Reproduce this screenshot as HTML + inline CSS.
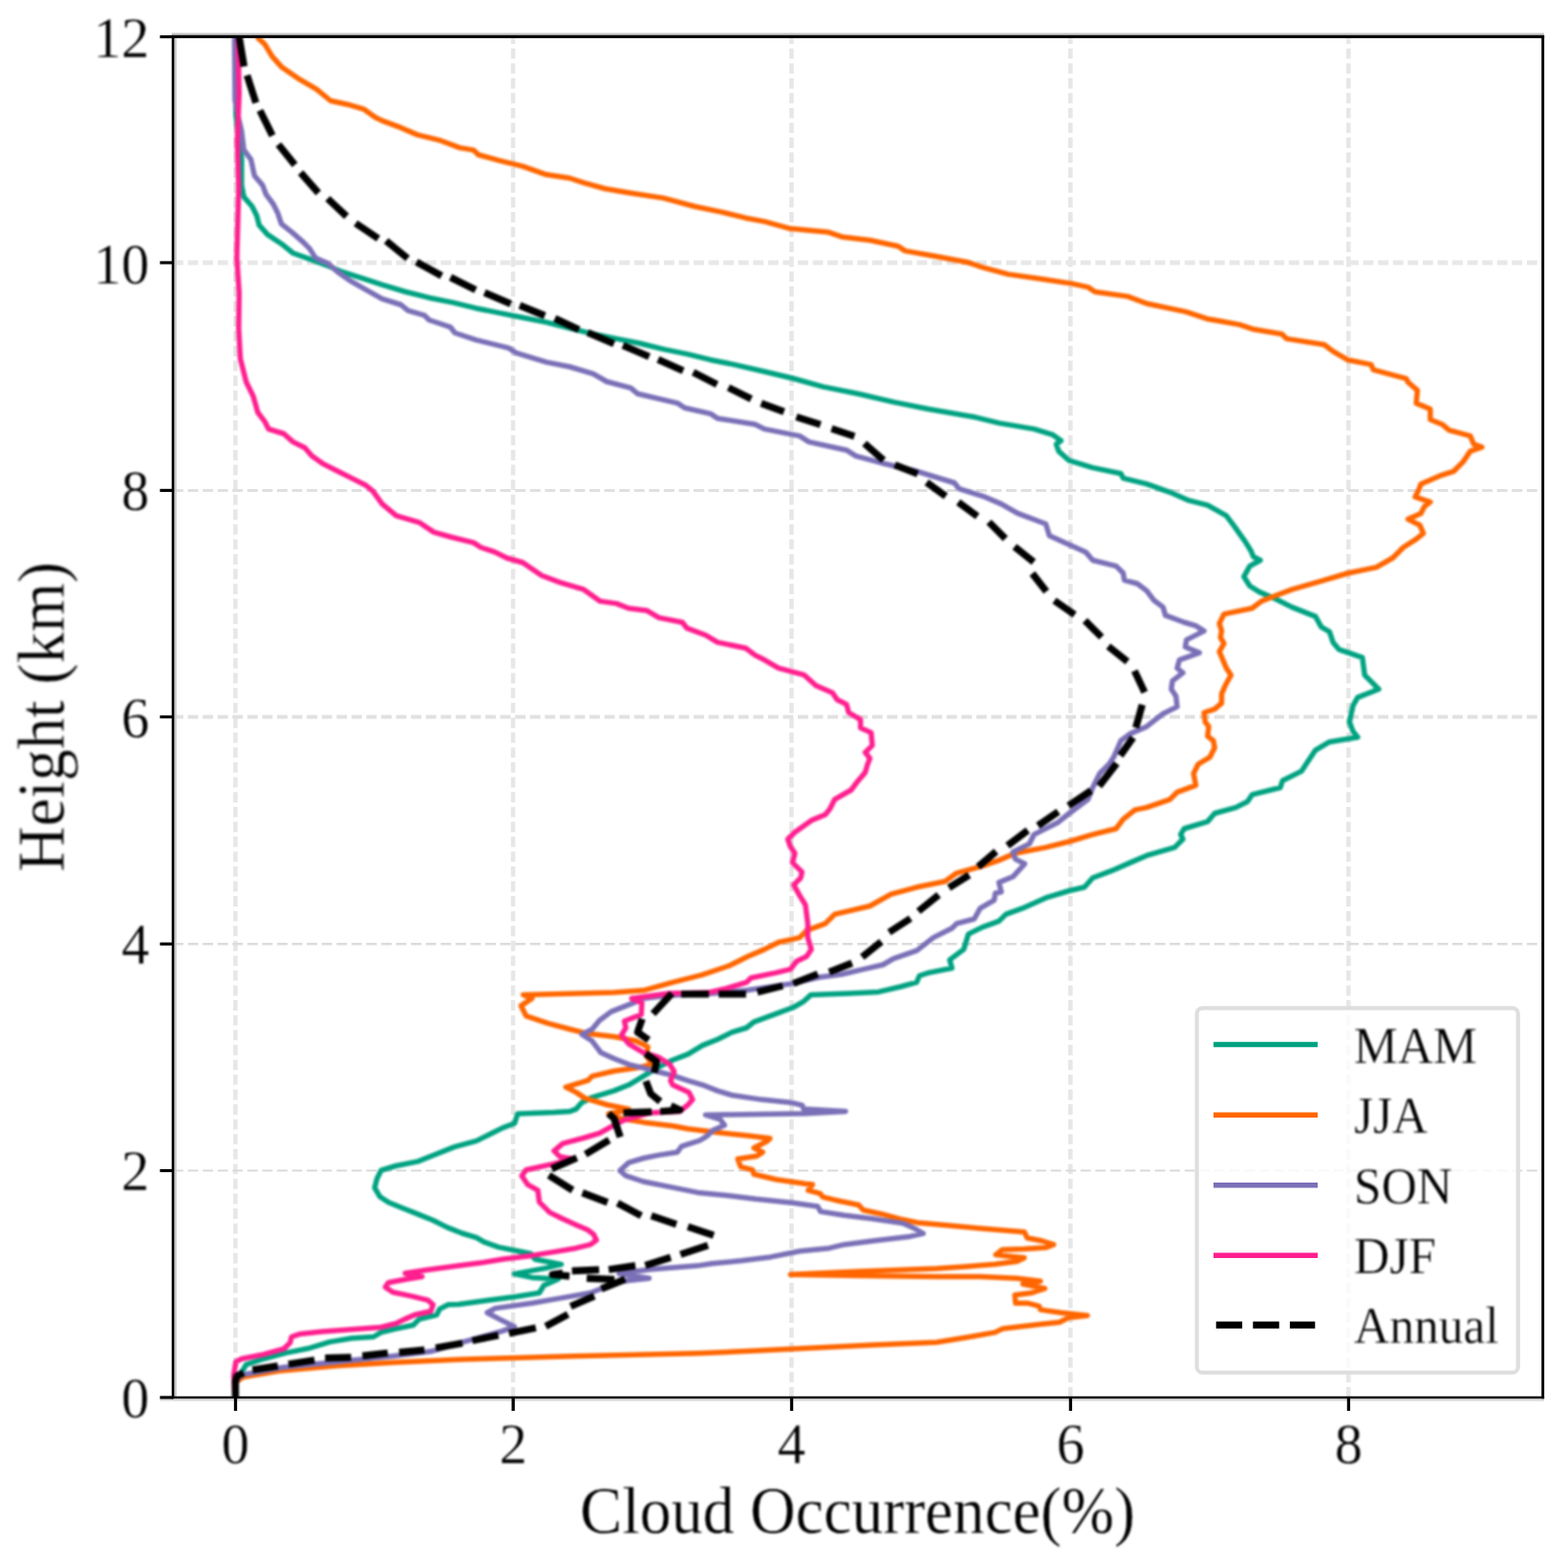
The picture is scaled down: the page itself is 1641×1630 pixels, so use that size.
<!DOCTYPE html>
<html lang="en"><head><meta charset="utf-8"><title>Cloud Occurrence vs Height</title>
<style>html,body{margin:0;padding:0;background:#fff}body{width:1641px;height:1630px;overflow:hidden}svg{display:block}text{font-family:"Liberation Serif", serif;fill:#000;stroke:#fff;stroke-width:0.35px}</style>
</head><body>
<svg width="1641" height="1630" viewBox="0 0 1641 1630">
<rect x="0" y="0" width="1641" height="1630" fill="#fff"/>
<defs><filter id="fsoft" x="-5%" y="-5%" width="110%" height="110%" color-interpolation-filters="sRGB"><feGaussianBlur stdDeviation="0.8"/></filter><filter id="ftxt" x="-10%" y="-10%" width="120%" height="120%" color-interpolation-filters="sRGB"><feGaussianBlur stdDeviation="0.8"/></filter></defs>
<defs><clipPath id="ax"><rect x="181.0" y="38.5" width="1434.2" height="1424.3"/></clipPath></defs>
<g stroke="#e6e6e6" stroke-width="4.0" stroke-dasharray="10.87 4.7" fill="none">
<line x1="246.4" y1="1462.8" x2="246.4" y2="38.5" stroke="#e7e7e7" stroke-width="4.6"/>
<line x1="537.0" y1="1462.8" x2="537.0" y2="38.5" stroke="#e7e7e7" stroke-width="4.6"/>
<line x1="828.4" y1="1462.8" x2="828.4" y2="38.5" stroke="#e7e7e7" stroke-width="4.6"/>
<line x1="1120.3" y1="1462.8" x2="1120.3" y2="38.5" stroke="#e7e7e7" stroke-width="4.6"/>
<line x1="1411.3" y1="1462.8" x2="1411.3" y2="38.5" stroke="#e7e7e7" stroke-width="4.6"/>
<line x1="181.0" y1="1225.5" x2="1615.2" y2="1225.5" stroke="#dadada" stroke-width="2.2"/>
<line x1="181.0" y1="988.2" x2="1615.2" y2="988.2" stroke="#dcdcdc" stroke-width="2.4"/>
<line x1="181.0" y1="750.5" x2="1615.2" y2="750.5" stroke="#e1e1e1" stroke-width="4.0"/>
<line x1="181.0" y1="513.4" x2="1615.2" y2="513.4" stroke="#e0e0e0" stroke-width="3.0"/>
<line x1="181.0" y1="275.0" x2="1615.2" y2="275.0" stroke="#e8e8e8" stroke-width="5.0"/>
</g>
<g filter="url(#fsoft)" clip-path="url(#ax)" fill="none" stroke-linejoin="round" stroke-linecap="butt">
<polyline stroke="#00A281" stroke-width="5.5" points="246.5,38.5 247.0,120.0 250.0,150.0 252.8,165.0 252.8,193.9 255.2,206.1 263.8,216.0 268.7,225.8 271.2,235.6 279.8,245.4 294.5,255.2 306.7,265.0 323.9,271.2 343.6,278.5 358.3,284.7 377.9,290.8 400.0,298.2 424.5,305.5 449.1,311.7 473.6,316.6 498.2,322.7 522.7,327.6 547.2,332.5 571.8,337.4 596.3,343.6 620.9,349.7 645.4,354.6 669.9,359.5 694.5,365.6 719.0,370.6 743.6,376.7 768.1,381.6 800.0,389.0 829.4,396.0 861.3,404.9 898.2,412.3 935.0,420.9 971.8,428.2 1020.9,436.8 1045.4,442.9 1082.2,449.1 1101.8,455.2 1110.4,461.3 1105.5,465.0 1108.0,472.4 1119.0,482.2 1143.6,489.6 1173.0,495.7 1175.5,500.6 1200.0,506.7 1224.5,515.3 1244.2,523.9 1263.8,528.8 1283.4,539.9 1290.8,549.7 1303.1,566.9 1309.2,576.7 1311.7,582.8 1319.0,586.5 1308.0,592.6 1301.8,603.7 1308.0,613.5 1317.8,619.6 1335.0,627.0 1352.1,635.6 1376.7,645.4 1382.8,656.4 1391.4,661.3 1395.1,672.4 1401.2,679.8 1425.8,688.3 1428.2,706.7 1435.6,714.1 1442.9,721.5 1420.9,730.1 1416.0,738.7 1412.3,755.8 1416.0,765.6 1420.9,771.8 1391.4,776.7 1376.7,785.3 1366.9,800.0 1362.0,807.4 1342.3,817.2 1339.9,824.5 1310.4,831.9 1305.5,839.3 1293.3,845.4 1271.2,851.5 1263.8,860.1 1239.3,867.5 1235.6,873.6 1238.0,878.5 1229.4,887.1 1200.0,895.7 1182.8,903.1 1163.2,911.7 1143.6,919.0 1135.0,928.8 1119.0,932.5 1094.5,939.9 1069.9,950.9 1052.8,957.1 1045.4,964.4 1028.2,970.6 1013.5,977.9 1008.6,993.9 993.9,1004.9 996.3,1013.5 971.8,1018.4 962.3,1021.5 959.3,1028.4 942.4,1033.0 919.4,1038.4 888.7,1039.9 848.8,1041.4 841.2,1048.3 830.4,1054.5 812.0,1061.4 789.0,1069.8 781.3,1076.0 766.0,1080.6 750.7,1088.2 735.3,1094.4 720.0,1103.6 704.0,1109.7 688.7,1117.4 673.4,1126.6 658.0,1135.8 642.7,1141.9 619.7,1148.8 609.0,1154.2 602.8,1161.1 596.7,1163.4 580.0,1164.5 541.7,1166.0 538.6,1176.0 526.3,1180.6 514.0,1186.7 498.7,1194.4 475.7,1200.6 452.7,1209.8 437.4,1215.9 414.4,1220.5 399.0,1225.1 394.4,1234.3 392.1,1243.5 397.5,1252.7 406.7,1258.8 422.0,1265.0 437.4,1271.1 452.7,1277.2 468.0,1284.9 483.4,1291.0 498.7,1295.6 506.4,1300.2 521.7,1305.6 544.7,1310.2 555.5,1312.5 559.8,1318.2 587.4,1323.6 572.0,1327.4 538.3,1333.6 556.7,1337.4 584.3,1338.9 569.0,1345.8 564.4,1353.5 541.3,1357.3 510.7,1361.2 480.0,1365.5 469.3,1365.8 460.1,1370.4 457.0,1376.5 438.6,1381.1 432.5,1387.2 414.0,1391.1 398.7,1394.9 391.0,1399.5 368.0,1401.0 345.0,1404.9 322.0,1411.8 299.0,1416.4 276.0,1422.5 257.6,1428.7 253.0,1436.3 247.0,1445.0 246.4,1463.0"/>
<polyline stroke="#FF6600" stroke-width="5.5" points="268.7,38.5 277.3,46.6 284.7,58.9 294.5,69.9 314.1,83.4 331.3,93.3 346.0,105.5 363.2,109.2 380.4,114.1 392.6,122.7 400.0,126.4 419.6,133.7 436.8,141.1 461.3,147.2 481.0,154.6 495.7,157.1 500.6,162.0 522.7,168.1 547.2,174.2 571.8,182.8 596.3,186.5 611.0,191.4 633.1,197.5 657.7,201.7 694.5,207.4 726.4,216.0 755.8,222.1 780.4,228.2 800.0,231.9 827.0,239.3 866.3,242.9 881.0,247.9 910.4,251.5 939.9,257.7 947.2,262.6 981.6,268.7 1013.5,274.8 1028.2,279.8 1055.2,287.1 1089.6,292.0 1121.5,296.9 1138.7,300.6 1146.0,305.5 1180.4,310.4 1200.0,317.8 1241.0,326.4 1263.1,333.7 1297.4,339.9 1312.2,344.8 1341.6,349.7 1346.5,354.6 1385.8,360.7 1395.6,368.1 1410.3,376.7 1434.9,381.6 1437.3,387.2 1471.7,396.3 1473.5,400.0 1483.4,408.6 1482.2,422.1 1496.9,428.2 1496.9,439.3 1509.2,444.2 1516.6,450.3 1538.7,456.4 1542.3,465.0 1550.9,468.2 1538.7,472.4 1531.3,483.4 1521.5,493.3 1506.7,498.2 1487.1,506.7 1484.7,512.9 1481.0,520.2 1496.9,525.6 1490.8,530.1 1487.1,537.4 1473.6,543.6 1485.9,549.7 1489.6,558.3 1482.2,564.4 1468.7,573.0 1457.7,584.0 1440.5,593.9 1411.0,600.0 1381.6,608.6 1352.1,617.2 1332.5,624.5 1320.2,629.4 1310.4,636.8 1281.0,642.9 1276.1,652.8 1278.5,660.1 1277.3,667.5 1281.0,673.6 1276.1,682.2 1279.8,690.8 1283.4,699.4 1288.3,706.7 1282.2,717.8 1278.5,726.4 1278.5,736.2 1271.2,742.3 1260.1,746.0 1261.3,755.8 1265.0,760.7 1263.8,770.6 1269.9,775.5 1271.2,782.8 1266.3,792.6 1254.0,800.0 1249.1,809.8 1251.5,822.1 1231.9,829.4 1224.5,836.8 1200.0,845.4 1187.7,847.9 1175.5,857.7 1168.1,867.5 1143.6,873.6 1119.0,881.0 1094.5,887.1 1062.6,893.3 1045.4,900.6 1028.2,906.7 1001.2,914.1 989.0,922.7 959.5,928.8 932.5,936.2 910.4,948.5 873.6,957.1 863.8,966.9 844.2,974.2 836.8,981.6 814.7,986.5 800.0,993.9 782.8,1001.2 763.2,1011.0 734.7,1020.7 704.0,1028.4 673.4,1036.8 642.7,1039.1 547.6,1041.4 556.8,1045.3 545.3,1052.9 550.7,1063.7 573.7,1071.3 596.7,1077.5 615.1,1082.1 642.7,1085.2 665.7,1089.8 678.0,1095.9 676.4,1105.1 682.6,1114.3 665.7,1118.1 642.7,1121.2 619.7,1126.6 615.1,1131.2 592.1,1138.1 602.8,1143.4 612.0,1149.6 635.0,1156.5 658.0,1161.1 650.0,1163.5 637.0,1166.0 650.0,1171.0 673.4,1174.9 704.0,1178.7 720.0,1181.8 750.7,1185.6 781.3,1188.7 805.9,1191.7 802.8,1194.8 789.0,1201.7 798.2,1206.3 792.1,1210.2 772.1,1213.2 775.2,1221.6 787.5,1224.7 789.0,1229.3 812.0,1234.7 842.7,1239.3 850.4,1240.1 845.8,1246.2 858.0,1249.3 861.1,1253.1 873.4,1256.2 898.7,1261.5 903.3,1266.8 921.7,1270.7 944.7,1276.8 960.1,1279.9 980.0,1281.8 1026.0,1286.0 1072.0,1289.8 1075.1,1296.0 1090.4,1299.0 1102.7,1302.9 1095.0,1306.0 1072.0,1307.5 1049.0,1308.3 1042.1,1313.6 1056.7,1315.2 1072.0,1316.7 1064.4,1320.5 1041.3,1323.6 1010.7,1325.9 980.0,1328.0 900.0,1331.0 827.4,1334.3 900.0,1335.5 980.0,1336.6 1026.0,1336.6 1064.4,1338.2 1088.9,1341.2 1070.5,1344.3 1093.5,1348.9 1079.7,1353.5 1062.1,1355.8 1062.8,1364.2 1075.1,1364.2 1087.4,1367.3 1088.9,1371.1 1110.4,1374.2 1138.0,1377.3 1118.0,1379.6 1108.8,1384.2 1087.4,1386.5 1049.0,1391.1 1041.3,1394.9 1010.7,1400.3 980.0,1405.2 914.0,1407.9 852.7,1411.0 791.3,1414.1 730.0,1416.8 600.0,1419.8 480.0,1423.2 414.0,1426.3 352.7,1429.8 291.3,1435.3 255.0,1441.5 248.0,1446.0 246.4,1450.0 246.4,1463.0"/>
<polyline stroke="#7A70B7" stroke-width="5.5" points="245.4,38.5 246.0,105.0 250.0,125.0 252.8,137.4 255.2,157.0 262.6,166.9 266.3,184.0 274.8,193.9 278.5,203.7 285.9,213.5 290.8,223.3 294.5,234.4 306.7,244.2 316.6,252.8 323.9,260.1 330.1,269.9 343.6,276.1 353.4,284.7 365.6,293.3 380.4,301.8 400.0,312.9 419.6,319.0 427.0,325.2 444.2,330.1 449.1,335.0 471.2,342.3 476.1,348.5 498.2,355.8 532.5,364.4 539.9,369.3 571.8,379.1 596.3,384.0 620.9,391.4 635.0,399.5 660.1,406.1 667.5,412.3 709.2,422.1 716.6,427.0 743.6,433.1 750.9,438.0 790.2,444.2 800.0,449.1 836.8,456.4 846.6,462.6 885.9,471.2 895.7,477.3 922.7,484.7 959.5,493.3 998.8,505.5 1003.7,511.7 1030.7,520.2 1047.9,527.6 1065.0,537.4 1094.5,548.5 1098.2,560.7 1114.1,568.1 1136.2,577.9 1143.6,586.5 1168.1,592.6 1175.5,600.0 1176.7,607.4 1190.2,611.0 1200.0,618.4 1207.4,628.2 1217.2,635.6 1219.6,644.2 1239.3,651.5 1251.5,655.2 1260.1,660.6 1241.7,669.9 1240.5,677.3 1255.2,683.4 1234.4,690.8 1231.9,699.4 1238.0,704.3 1227.0,712.9 1225.8,721.5 1230.7,728.8 1231.9,739.9 1217.2,747.2 1200.0,760.7 1182.8,768.1 1173.0,775.5 1165.6,792.6 1160.7,800.0 1150.9,809.8 1143.6,824.5 1138.7,836.8 1119.0,851.5 1106.7,861.3 1082.2,873.6 1077.3,883.4 1060.1,892.0 1062.6,899.4 1072.4,904.3 1060.1,917.8 1045.4,923.9 1047.9,933.7 1041.7,935.0 1040.5,942.3 1025.8,950.9 1019.6,962.0 1001.2,966.9 996.3,971.8 976.7,981.6 959.5,995.1 935.0,1003.7 924.0,1010.0 904.0,1014.6 881.0,1020.0 858.0,1023.0 827.4,1029.9 781.3,1036.8 740.0,1040.5 700.0,1042.0 673.4,1045.3 661.1,1050.6 639.6,1059.1 627.4,1068.3 619.7,1077.5 609.0,1082.9 619.7,1089.8 628.9,1102.0 642.7,1108.2 658.0,1114.3 673.4,1118.1 688.7,1122.0 704.0,1125.8 719.4,1131.2 735.3,1135.8 750.7,1141.9 766.0,1146.5 796.7,1151.1 827.4,1154.2 839.6,1157.2 841.2,1161.1 884.9,1163.4 842.7,1165.7 738.4,1167.2 753.7,1171.8 758.3,1177.9 746.1,1183.3 739.9,1189.4 732.3,1194.0 720.0,1197.9 713.3,1200.2 708.7,1206.3 688.7,1209.4 673.4,1212.5 658.0,1217.1 648.8,1225.5 655.0,1230.9 673.4,1237.0 704.0,1243.1 730.0,1248.4 760.7,1251.5 791.3,1255.3 829.7,1259.2 855.8,1263.0 858.8,1268.4 883.4,1272.2 914.0,1276.0 944.7,1280.6 957.0,1286.0 966.2,1291.4 952.4,1294.4 914.0,1299.0 883.4,1302.9 868.0,1306.7 837.4,1309.8 806.7,1315.9 776.0,1319.8 745.3,1322.8 730.0,1325.1 679.4,1329.0 648.0,1333.5 679.4,1338.2 648.7,1341.5 618.0,1353.5 587.4,1358.9 556.7,1364.2 518.3,1369.6 509.9,1374.2 522.9,1381.1 538.3,1388.8 526.0,1393.4 487.7,1404.1 480.0,1406.4 450.9,1414.8 411.0,1419.7 296.0,1431.5 253.0,1439.4 246.4,1446.0 246.4,1463.0"/>
<polyline stroke="#FF1F8F" stroke-width="5.5" points="249.0,38.5 250.3,98.0 248.3,147.0 249.8,196.0 247.9,270.0 250.3,306.7 249.8,343.6 251.5,375.5 257.7,400.0 265.0,414.7 269.9,431.9 277.3,441.7 281.0,449.1 296.9,454.0 306.7,462.6 319.0,468.7 326.4,477.3 338.7,485.9 353.4,493.3 368.1,500.6 382.8,508.0 390.2,514.1 400.0,527.6 414.7,539.9 439.3,547.2 454.0,557.1 471.2,562.0 495.7,568.1 503.1,573.0 517.8,577.9 530.1,584.0 547.2,589.0 566.9,602.5 586.5,609.8 611.0,617.2 628.2,629.4 645.4,631.9 657.7,636.8 677.3,639.3 689.6,646.6 714.1,651.5 719.0,657.7 738.7,665.0 750.9,672.4 780.4,678.5 790.2,685.9 800.0,690.8 814.7,699.4 841.7,706.7 854.0,717.8 871.2,725.2 876.1,732.5 885.9,737.4 888.3,746.0 900.6,753.4 900.6,762.0 911.7,766.9 912.9,780.4 905.5,787.7 910.4,793.9 908.0,800.0 905.5,808.6 898.2,817.2 890.8,827.0 873.6,836.8 868.7,846.6 863.8,852.8 849.1,858.9 831.9,871.2 824.5,878.5 827.0,885.9 831.9,893.3 829.4,903.1 839.3,912.9 838.0,919.0 830.7,926.4 836.8,937.4 842.9,947.2 845.4,966.9 845.4,981.6 849.1,993.9 844.2,1001.2 833.5,1006.5 827.4,1014.6 812.0,1018.4 786.0,1023.8 781.3,1028.4 758.3,1035.3 741.5,1039.1 700.0,1040.0 661.1,1045.3 671.8,1049.9 671.1,1062.1 653.4,1069.0 655.0,1076.0 650.4,1083.6 658.0,1092.8 673.4,1102.0 688.7,1106.6 701.0,1114.3 705.6,1122.0 701.7,1131.2 704.0,1135.8 720.9,1143.4 724.8,1151.1 719.4,1157.2 711.7,1163.4 681.0,1164.9 653.4,1172.6 642.7,1177.9 627.4,1186.4 612.0,1191.0 589.0,1197.1 579.8,1204.8 586.0,1210.9 599.8,1213.2 578.3,1218.6 550.7,1224.7 546.1,1230.9 552.2,1240.1 562.9,1246.2 564.4,1258.4 575.1,1269.1 587.4,1275.3 602.7,1282.2 615.0,1287.5 621.1,1292.1 624.2,1298.3 618.0,1302.9 602.7,1306.7 579.7,1310.6 556.7,1314.4 526.0,1318.2 503.0,1322.1 480.0,1325.0 444.7,1329.7 424.0,1333.0 441.7,1336.5 426.3,1339.0 406.4,1342.8 403.3,1347.4 411.0,1352.7 429.4,1356.6 447.8,1361.2 453.2,1365.8 450.9,1372.7 434.0,1376.5 423.3,1381.1 414.0,1385.7 398.7,1389.5 368.0,1391.8 337.4,1394.1 314.4,1396.4 305.2,1399.5 303.6,1405.6 297.5,1411.8 276.0,1417.9 253.0,1422.5 246.9,1425.6 244.6,1439.4 246.0,1463.0"/>
<g stroke="#000" stroke-width="7.4">
<polyline points="250.1,37.5 255.4,69.7"/>
<polyline points="258.6,78.8 267.8,107.7"/>
<polyline points="272.0,115.7 285.1,142.0"/>
<polyline points="291.4,151.3 308.6,172.6"/>
<polyline points="314.6,180.8 333.2,202.0"/>
<polyline points="342.9,207.9 362.7,226.5"/>
<polyline points="372.2,233.8 395.9,249.7"/>
<polyline points="404.1,252.2 426.6,270.5"/>
<polyline points="435.9,274.3 462.2,288.8"/>
<polyline points="471.5,290.4 497.8,303.5"/>
<polyline points="507.1,306.3 534.6,318.2"/>
<polyline points="543.9,319.8 570.2,330.5"/>
<polyline points="580.7,333.3 605.8,345.2"/>
<polyline points="615.1,348.1 642.6,359.9"/>
<polyline points="651.9,361.6 679.4,373.4"/>
<polyline points="688.7,376.3 715.0,388.1"/>
<polyline points="725.5,389.7 750.4,402.5"/>
<polyline points="762.3,405.7 786.2,417.6"/>
<polyline points="796.6,422.2 820.5,431.0"/>
<polyline points="833.4,436.5 858.7,444.5"/>
<polyline points="870.3,448.8 894.2,456.7"/>
<polyline points="904.7,464.3 924.7,481.7"/>
<polyline points="936.5,486.7 960.4,496.1"/>
<polyline points="969.8,504.9 989.8,519.6"/>
<polyline points="1002.9,525.8 1022.9,540.5"/>
<polyline points="1034.9,546.5 1052.2,563.9"/>
<polyline points="1061.8,572.4 1081.8,588.3"/>
<polyline points="1080.4,600.4 1095.1,619.2"/>
<polyline points="1103.5,628.8 1124.7,643.5"/>
<polyline points="1135.5,649.6 1152.8,667.0"/>
<polyline points="1159.9,676.7 1179.9,692.6"/>
<polyline points="1187.3,702.2 1197.9,724.8"/>
<polyline points="1195.4,737.7 1188.7,761.7"/>
<polyline points="1185.9,772.2 1172.4,791.0"/>
<polyline points="1168.7,799.2 1150.3,822.9"/>
<polyline points="1141.9,827.6 1118.2,843.5"/>
<polyline points="1107.5,849.7 1086.3,864.4"/>
<polyline points="1075.6,869.3 1054.4,885.3"/>
<polyline points="1042.5,891.4 1023.7,907.3"/>
<polyline points="1014.3,916.1 993.1,929.3"/>
<polyline points="982.4,936.8 961.2,954.0"/>
<polyline points="952.9,961.5 930.5,976.0"/>
<polyline points="922.3,985.9 902.3,1001.8"/>
<polyline points="891.7,1008.2 867.8,1017.6"/>
<polyline points="855.9,1019.6 830.3,1029.6"/>
<polyline points="819.2,1032.0 792.6,1038.6"/>
<polyline points="780.8,1040.7 752.1,1040.7"/>
<polyline points="741.9,1040.7 713.0,1040.7"/>
<polyline points="703.2,1040.0 683.4,1061.3"/>
<polyline points="672.1,1066.6 667.2,1080.6 678.8,1088.8"/>
<polyline points="675.6,1103.0 687.2,1111.2 684.7,1123.0"/>
<polyline points="676.0,1131.8 681.0,1145.0 691.0,1153.2"/>
<polyline points="702.1,1157.6 711.7,1162.0 691.0,1163.6"/>
<polyline points="682.0,1164.0 652.4,1165.0"/>
<polyline points="636.7,1165.8 642.7,1171.0 649.1,1190.3"/>
<polyline points="637.5,1193.5 612.7,1208.4"/>
<polyline points="603.7,1212.1 577.4,1223.6"/>
<polyline points="574.4,1230.4 599.3,1246.0"/>
<polyline points="609.5,1248.8 635.8,1258.8"/>
<polyline points="646.3,1259.4 671.1,1272.7"/>
<polyline points="681.6,1272.7 707.9,1281.7"/>
<polyline points="719.9,1284.2 746.9,1293.3"/>
<polyline points="740.9,1303.7 712.2,1313.2"/>
<polyline points="701.9,1316.4 675.3,1324.7"/>
<polyline points="665.0,1325.0 637.0,1329.1"/>
<polyline points="627.0,1329.3 598.6,1330.5"/>
<polyline points="589.0,1332.6 578.2,1334.3 596.0,1336.0"/>
<polyline points="614.0,1338.2 643.0,1339.4"/>
<polyline points="654.2,1339.3 629.4,1349.3"/>
<polyline points="622.0,1356.9 597.2,1367.7"/>
<polyline points="594.4,1376.0 571.1,1388.5"/>
<polyline points="560.8,1390.1 532.7,1395.9"/>
<polyline points="521.6,1397.8 494.3,1403.5"/>
<polyline points="484.0,1406.2 456.0,1411.2"/>
<polyline points="444.2,1413.2 417.7,1415.7"/>
<polyline points="405.8,1416.3 379.3,1419.5"/>
<polyline points="367.5,1421.0 340.2,1421.7"/>
<polyline points="329.2,1423.8 301.9,1428.1"/>
<polyline points="290.8,1430.0 264.3,1434.2"/>
<polyline points="254.9,1437.1 248.0,1440.5 246.4,1446.0 246.4,1464.0"/>
</g></g>
<g fill="none">
<g stroke-width="2.3"><line x1="179.7" y1="35.7" x2="1616.1" y2="35.7" stroke="#c6c6c6"/><line x1="183.6" y1="38.5" x2="183.6" y2="1463" stroke="#cacaca"/><line x1="167.3" y1="1465.6" x2="1616.1" y2="1465.6" stroke="#dadada"/></g>
<g stroke="#000">
<line x1="246.5" y1="1462.8" x2="246.5" y2="1477.0" stroke-width="3.3"/>
<line x1="537.1" y1="1462.8" x2="537.1" y2="1477.0" stroke-width="3.3"/>
<line x1="828.5" y1="1462.8" x2="828.5" y2="1477.0" stroke-width="3.3"/>
<line x1="1120.4" y1="1462.8" x2="1120.4" y2="1477.0" stroke-width="3.3"/>
<line x1="1411.4" y1="1462.8" x2="1411.4" y2="1477.0" stroke-width="3.3"/>
<line x1="181.0" y1="1463.0" x2="167.4" y2="1463.0" stroke-width="3.2"/>
<line x1="181.0" y1="1225.5" x2="167.4" y2="1225.5" stroke-width="3.2"/>
<line x1="181.0" y1="988.2" x2="167.4" y2="988.2" stroke-width="3.2"/>
<line x1="181.0" y1="750.5" x2="167.4" y2="750.5" stroke-width="3.2"/>
<line x1="181.0" y1="513.4" x2="167.4" y2="513.4" stroke-width="3.2"/>
<line x1="181.0" y1="275.0" x2="167.4" y2="275.0" stroke-width="3.2"/>
<line x1="181.0" y1="38.5" x2="167.4" y2="38.5" stroke-width="3.2"/>
<line x1="179.7" y1="38.45" x2="1616.1" y2="38.45" stroke-width="3.2"/>
<line x1="179.7" y1="1463.0" x2="1616.1" y2="1463.0" stroke-width="2.7"/>
<line x1="181.05" y1="36.9" x2="181.05" y2="1464.3" stroke-width="2.7"/>
<line x1="1614.7" y1="36.9" x2="1614.7" y2="1464.3" stroke-width="2.9"/>
</g></g>
<g filter="url(#ftxt)" font-size="58.5px">
<text transform="translate(246.4,1531.8) scale(1,1.05)" text-anchor="middle">0</text>
<text transform="translate(537.0,1531.8) scale(1,1.05)" text-anchor="middle">2</text>
<text transform="translate(828.4,1531.8) scale(1,1.05)" text-anchor="middle">4</text>
<text transform="translate(1120.3,1531.8) scale(1,1.05)" text-anchor="middle">6</text>
<text transform="translate(1411.3,1531.8) scale(1,1.05)" text-anchor="middle">8</text>
<text transform="translate(156.3,1483.8) scale(1,1.05)" text-anchor="end">0</text>
<text transform="translate(156.3,1246.4) scale(1,1.05)" text-anchor="end">2</text>
<text transform="translate(156.3,1009.0) scale(1,1.05)" text-anchor="end">4</text>
<text transform="translate(156.3,771.6) scale(1,1.05)" text-anchor="end">6</text>
<text transform="translate(156.3,534.3) scale(1,1.05)" text-anchor="end">8</text>
<text transform="translate(156.3,296.9) scale(1,1.05)" text-anchor="end">10</text>
<text transform="translate(156.3,59.5) scale(1,1.05)" text-anchor="end">12</text>
</g>
<g filter="url(#ftxt)" font-size="66px" text-anchor="middle">
<text transform="translate(897.5,1605.3) scale(1,1.05)">Cloud Occurrence(%)</text>
<text transform="translate(66.7,750.5) rotate(-90) scale(1,1.05)">Height (km)</text>
</g>
<rect x="1252.6" y="1055.3" width="336.1" height="381.6" rx="6" ry="6" fill="#fff" fill-opacity="0.8" stroke="#dedede" stroke-width="4.2"/>
<g>
<line x1="1270" y1="1093.5" x2="1379" y2="1093.5" stroke="#00A281" stroke-width="5.5"/>
<line x1="1270" y1="1167.3" x2="1379" y2="1167.3" stroke="#FF6600" stroke-width="5.5"/>
<line x1="1270" y1="1240.8" x2="1379" y2="1240.8" stroke="#7A70B7" stroke-width="5.5"/>
<line x1="1270" y1="1314.3" x2="1379" y2="1314.3" stroke="#FF1F8F" stroke-width="5.5"/>
<line x1="1272.7" y1="1387.1" x2="1376.3" y2="1387.1" stroke="#000" stroke-width="7.4" stroke-dasharray="27.4 11.2"/>
</g>
<g filter="url(#ftxt)" font-size="51.5px">
<text transform="translate(1417,1112.5) scale(1,1.05)">MAM</text>
<text transform="translate(1417,1186.3) scale(1,1.05)">JJA</text>
<text transform="translate(1417,1259.8) scale(1,1.05)">SON</text>
<text transform="translate(1417,1333.3) scale(1,1.05)">DJF</text>
<text transform="translate(1417,1406.1) scale(1,1.05)">Annual</text>
</g>
</svg></body></html>
